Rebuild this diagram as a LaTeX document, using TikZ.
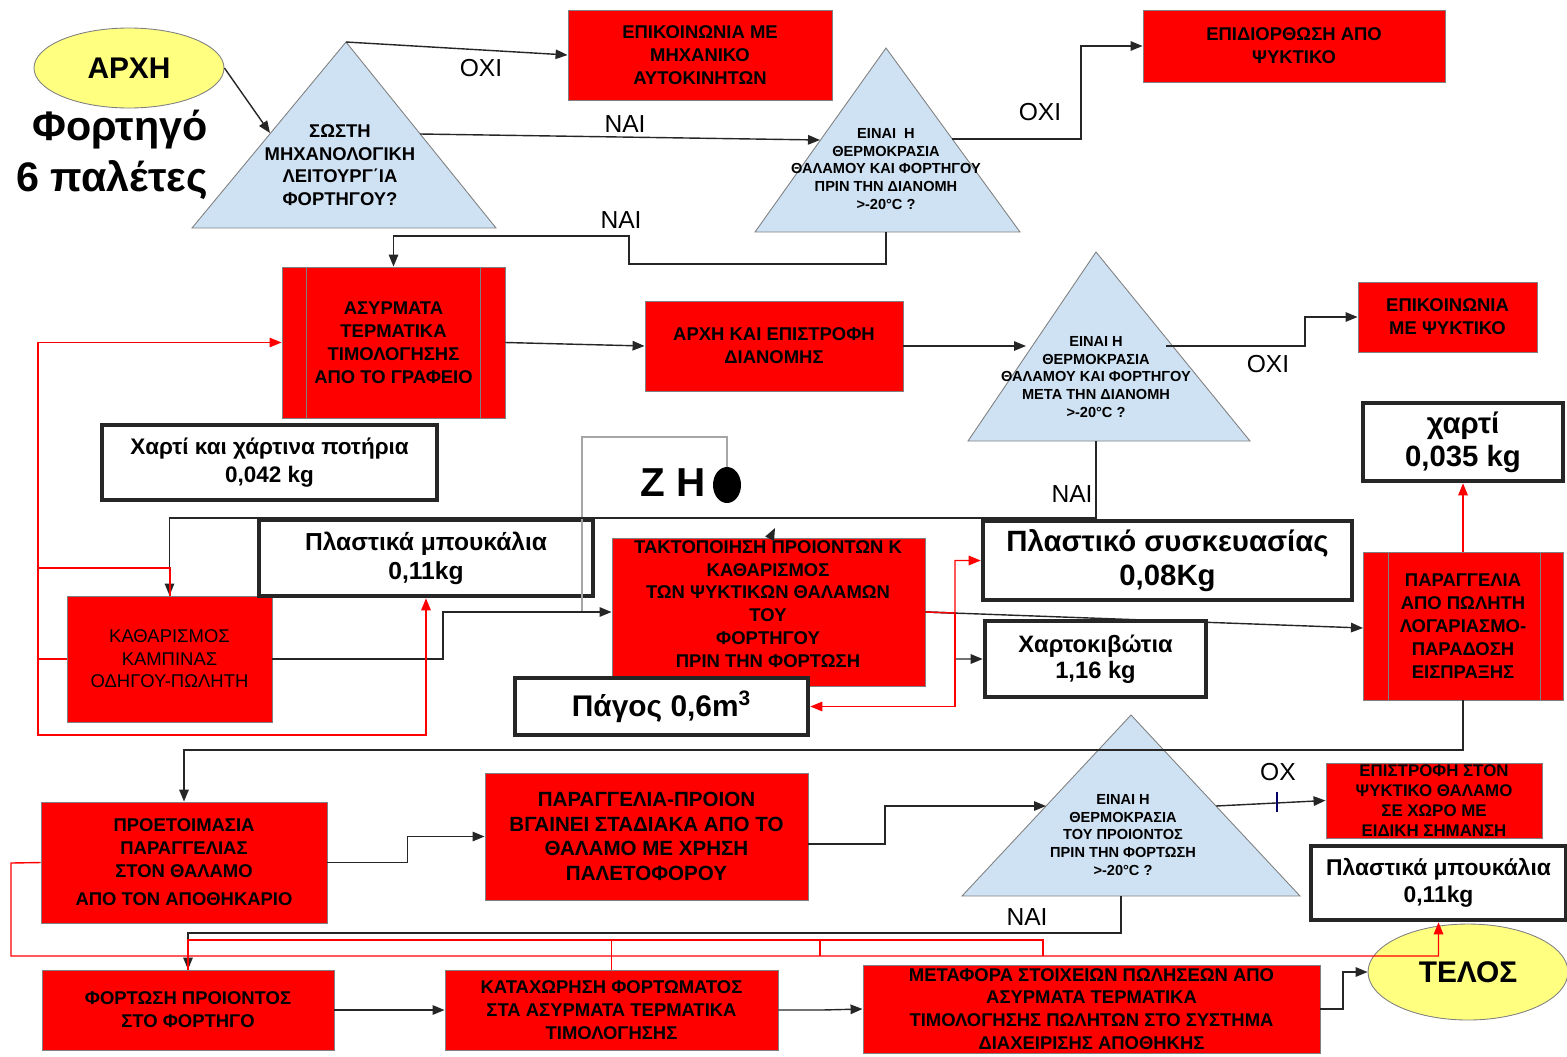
\documentclass[tikz,border=0pt]{standalone}
\usepackage{fontspec}
\setmainfont{Liberation Sans}
\usetikzlibrary{arrows.meta,shapes.geometric}
\definecolor{boxred}{HTML}{FF0000}
\definecolor{tri}{HTML}{CFE2F3}
\definecolor{termfill}{HTML}{FFFF80}
\definecolor{edge}{HTML}{808080}
\definecolor{ink}{HTML}{262626}
\definecolor{frame}{HTML}{A6A6A6}

\begin{document}
\begin{tikzpicture}[x=0.2mm,y=-0.2mm,
  redbox/.style={draw=edge, line width=0.5pt, fill=boxred, align=center, inner sep=0pt,
    font=\bfseries\fontsize{10.5}{13}\selectfont},
  boxtext/.style={align=center, inner sep=0pt, font=\bfseries\fontsize{10.5}{13}\selectfont},
  massbox/.style={draw=ink, line width=2.6pt, fill=white, align=center, inner sep=0pt},
  term/.style={ellipse, draw=edge, line width=0.5pt, fill=termfill, inner sep=0pt,
    font=\bfseries\fontsize{17}{20}\selectfont},
  decision/.style={draw=edge, line width=0.5pt, fill=tri},
  dtext/.style={align=center, inner sep=0pt, font=\bfseries\fontsize{8.3}{10.2}\selectfont},
  lbl/.style={inner sep=0pt, font=\fontsize{14}{16}\selectfont},
  link/.style={draw=ink, line width=0.8pt},
  flow/.style={link, -{Triangle[length=2.4mm,width=1.9mm]}},
  rlink/.style={draw=red, line width=0.8pt},
  rflow/.style={rlink, -{Triangle[length=2.4mm,width=1.9mm]}},
]
\useasboundingbox (0,0) rectangle (1567,1056);

% ---------- start and end terminals ----------
\node[term, minimum width=190*0.2mm, minimum height=80*0.2mm] (start) at (129,68) {ΑΡΧΗ};
\node[term, minimum width=200*0.2mm, minimum height=96*0.2mm] (end) at (1468,972) {ΤΕΛΟΣ};
\node[align=right, inner sep=0pt, font=\bfseries\fontsize{23.5}{29}\selectfont] (truck) at (112,155) {Φορτηγό\\6 παλέτες};

% ---------- decision triangles ----------
\coordinate (t1top) at (346,42);  \coordinate (t1l) at (192,228);  \coordinate (t1r) at (496,228);
\path[decision] (t1top) -- (t1r) -- (t1l) -- cycle;
\node[dtext, font=\bfseries\fontsize{10.5}{12.8}\selectfont] (q1) at (340,165)
  {ΣΩΣΤΗ\\ΜΗΧΑΝΟΛΟΓΙΚΗ\\ΛΕΙΤΟΥΡΓ΄ΙΑ\\ΦΟΡΤΗΓΟΥ?};
\coordinate (t1in) at (270,133);  \coordinate (t1yes) at (420,134);

\coordinate (t2top) at (886,48);  \coordinate (t2l) at (755,232);  \coordinate (t2r) at (1020,232);
\path[decision] (t2top) -- (t2r) -- (t2l) -- cycle;
\node[dtext] (q2) at (886,169) {ΕΙΝΑΙ\ \ Η\\ΘΕΡΜΟΚΡΑΣΙΑ\\ΘΑΛΑΜΟΥ ΚΑΙ ΦΟΡΤΗΓΟΥ\\ΠΡΙΝ ΤΗΝ ΔΙΑΝΟΜΗ\\>-20°C ?};
\coordinate (t2in) at (820,140);  \coordinate (t2no) at (952,139);  \coordinate (t2yes) at (886,232);

\coordinate (t3top) at (1096,252);  \coordinate (t3l) at (968,441);  \coordinate (t3r) at (1250,441);
\path[decision] (t3top) -- (t3r) -- (t3l) -- cycle;
\node[dtext] (q3) at (1096,377) {ΕΙΝΑΙ Η\\ΘΕΡΜΟΚΡΑΣΙΑ\\ΘΑΛΑΜΟΥ ΚΑΙ ΦΟΡΤΗΓΟΥ\\ΜΕΤΑ ΤΗΝ ΔΙΑΝΟΜΗ\\>-20°C ?};
\coordinate (t3in) at (1026,346);  \coordinate (t3no) at (1166,346);  \coordinate (t3yes) at (1096,441);

\coordinate (t4top) at (1131,715);  \coordinate (t4l) at (962,896);  \coordinate (t4r) at (1300,896);
\path[decision] (t4top) -- (t4r) -- (t4l) -- cycle;
\node[dtext] (q4) at (1123,835) {ΕΙΝΑΙ Η\\ΘΕΡΜΟΚΡΑΣΙΑ\\ΤΟΥ ΠΡΟΙΟΝΤΟΣ\\ΠΡΙΝ ΤΗΝ ΦΟΡΤΩΣΗ\\>-20°C ?};
\coordinate (t4in) at (1046,806);  \coordinate (t4no) at (1216,806);  \coordinate (t4yes) at (1121,896);

% ---------- process boxes ----------
\node[redbox, minimum width=264*0.2mm, minimum height=90*0.2mm] (mech) at (700,55)
  {ΕΠΙΚΟΙΝΩΝΙΑ ΜΕ\\ΜΗΧΑΝΙΚΟ\\ΑΥΤΟΚΙΝΗΤΩΝ};
\node[redbox, minimum width=302*0.2mm, minimum height=72*0.2mm] (repair) at (1294,46)
  {ΕΠΙΔΙΟΡΘΩΣΗ ΑΠΟ\\ΨΥΚΤΙΚΟ};
\node[redbox, minimum width=223*0.2mm, minimum height=151*0.2mm] (wl) at (393.5,342.5)
  {ΑΣΥΡΜΑΤΑ\\ΤΕΡΜΑΤΙΚΑ\\ΤΙΜΟΛΟΓΗΣΗΣ\\ΑΠΟ ΤΟ ΓΡΑΦΕΙΟ};
\draw[edge, line width=0.5pt] (306,267) -- (306,418) (480,267) -- (480,418);
\node[redbox, minimum width=258*0.2mm, minimum height=90*0.2mm] (route) at (774,346)
  {ΑΡΧΗ ΚΑΙ ΕΠΙΣΤΡΟΦΗ\\ΔΙΑΝΟΜΗΣ};
\node[redbox, minimum width=179*0.2mm, minimum height=70*0.2mm] (cool) at (1447.5,317)
  {ΕΠΙΚΟΙΝΩΝΙΑ\\ΜΕ ΨΥΚΤΙΚΟ};
\node[redbox, minimum width=205*0.2mm, minimum height=126*0.2mm,
  font=\fontsize{10.5}{12.8}\selectfont] (clean) at (169.5,659)
  {ΚΑΘΑΡΙΣΜΟΣ\\ΚΑΜΠΙΝΑΣ\\ΟΔΗΓΟΥ-ΠΩΛΗΤΗ};
\node[redbox, minimum width=313*0.2mm, minimum height=148*0.2mm] (arrange) at (768.5,612) {};
\node[boxtext] (arrangetxt) at (768,604)
  {ΤΑΚΤΟΠΟΙΗΣΗ ΠΡΟΙΟΝΤΩΝ Κ\\ΚΑΘΑΡΙΣΜΟΣ\\ΤΩΝ ΨΥΚΤΙΚΩΝ ΘΑΛΑΜΩΝ\\ΤΟΥ\\ΦΟΡΤΗΓΟΥ\\ΠΡΙΝ ΤΗΝ ΦΟΡΤΩΣΗ};
\node[redbox, minimum width=200*0.2mm, minimum height=148*0.2mm] (order) at (1463,626)
  {ΠΑΡΑΓΓΕΛΙΑ\\ΑΠΟ ΠΩΛΗΤΗ\\ΛΟΓΑΡΙΑΣΜΟ-\\ΠΑΡΑΔΟΣΗ\\ΕΙΣΠΡΑΞΗΣ};
\draw[edge, line width=0.5pt] (1388,552) -- (1388,700) (1540,552) -- (1540,700);
\node[redbox, minimum width=286*0.2mm, minimum height=121*0.2mm] (prep) at (184,862.5)
  {ΠΡΟΕΤΟΙΜΑΣΙΑ\\ΠΑΡΑΓΓΕΛΙΑΣ\\ΣΤΟΝ ΘΑΛΑΜΟ\\[3pt]ΑΠΟ ΤΟΝ ΑΠΟΘΗΚΑΡΙΟ};
\node[redbox, minimum width=323*0.2mm, minimum height=127*0.2mm,
  font=\bfseries\fontsize{11.7}{14}\selectfont] (pallet) at (646.5,836.5)
  {ΠΑΡΑΓΓΕΛΙΑ-ΠΡΟΙΟΝ\\ΒΓΑΙΝΕΙ ΣΤΑΔΙΑΚΑ ΑΠΟ ΤΟ\\ΘΑΛΑΜΟ ΜΕ ΧΡΗΣΗ\\ΠΑΛΕΤΟΦΟΡΟΥ};
\node[redbox, minimum width=216*0.2mm, minimum height=75*0.2mm,
  font=\bfseries\fontsize{9.6}{11.5}\selectfont] (back) at (1434,800.5)
  {ΕΠΙΣΤΡΟΦΗ ΣΤΟΝ\\ΨΥΚΤΙΚΟ ΘΑΛΑΜΟ\\ΣΕ ΧΩΡΟ ΜΕ\\ΕΙΔΙΚΗ ΣΗΜΑΝΣΗ};
\node[redbox, minimum width=292*0.2mm, minimum height=80*0.2mm] (load) at (188,1010)
  {ΦΟΡΤΩΣΗ ΠΡΟΙΟΝΤΟΣ\\ΣΤΟ ΦΟΡΤΗΓΟ};
\node[redbox, minimum width=333*0.2mm, minimum height=80*0.2mm] (reg) at (611.5,1010)
  {ΚΑΤΑΧΩΡΗΣΗ ΦΟΡΤΩΜΑΤΟΣ\\ΣΤΑ ΑΣΥΡΜΑΤΑ ΤΕΡΜΑΤΙΚΑ\\ΤΙΜΟΛΟΓΗΣΗΣ};
\node[redbox, minimum width=457*0.2mm, minimum height=88*0.2mm] (transfer) at (1091.5,1009)
  {ΜΕΤΑΦΟΡΑ ΣΤΟΙΧΕΙΩΝ ΠΩΛΗΣΕΩΝ ΑΠΟ\\ΑΣΥΡΜΑΤΑ ΤΕΡΜΑΤΙΚΑ\\ΤΙΜΟΛΟΓΗΣΗΣ ΠΩΛΗΤΩΝ ΣΤΟ ΣΥΣΤΗΜΑ\\ΔΙΑΧΕΙΡΙΣΗΣ ΑΠΟΘΗΚΗΣ};

% ---------- waste quantities ----------
\node[massbox, minimum width=335*0.2mm, minimum height=75*0.2mm,
  font=\bfseries\fontsize{12.8}{15.5}\selectfont] (cups) at (269.5,462.5)
  {Χαρτί και χάρτινα ποτήρια\\0,042 kg};
\node[massbox, minimum width=334*0.2mm, minimum height=76*0.2mm,
  font=\bfseries\fontsize{14}{16.5}\selectfont] (bottlesA) at (426,558)
  {Πλαστικά μπουκάλια\\0,11kg};
\node[massbox, minimum width=200*0.2mm, minimum height=78*0.2mm,
  font=\bfseries\fontsize{16.7}{19}\selectfont] (paper) at (1463,442)
  {χαρτί\\0,035 kg};
\node[massbox, minimum width=369*0.2mm, minimum height=79*0.2mm,
  font=\bfseries\fontsize{16.7}{19}\selectfont] (wrap) at (1167.5,560.5)
  {Πλαστικό συσκευασίας\\0,08Kg};
\node[massbox, minimum width=221*0.2mm, minimum height=76*0.2mm,
  font=\bfseries\fontsize{13.5}{15}\selectfont] (carton) at (1095.5,659)
  {Χαρτοκιβώτια\\1,16 kg};
\node[massbox, minimum width=293*0.2mm, minimum height=57*0.2mm,
  font=\bfseries\fontsize{17}{19}\selectfont] (ice) at (661.5,706.5)
  {Πάγος 0,6m\textsuperscript{3}};
\node[massbox, minimum width=255*0.2mm, minimum height=74*0.2mm,
  font=\bfseries\fontsize{13}{15}\selectfont] (bottlesB) at (1438.5,883)
  {Πλαστικά μπουκάλια\\0,11kg};

% ---------- "Z H" mark with its grey frame ----------
\draw[frame, line width=0.8pt] (582,613) -- (582,437) -- (727,437) -- (727,472);
\node[inner sep=0pt, font=\bfseries\fontsize{23}{26}\selectfont] (zh) at (673,483) {Ζ Η};
\fill[black] (727,485) ellipse [x radius=14, y radius=18];

% ---------- black flow connectors ----------
\draw[flow] (start.east) -- (t1in);
\draw[flow] (t1top) -- (mech.west);
\draw[flow] (t1yes) -- (t2in);
\draw[flow] (t2no) -- (1081,139) |- (repair.west);
\draw[flow] (t2yes) -- (886,264) -- (629,264) -- (629,236) -| (wl.north);
\draw[flow] (wl.east) -- (route.west);
\draw[flow] (route.east) -- (t3in);
\draw[flow] (t3no) -- (1305,346) |- (cool.west);
\draw[flow] (t3yes) -- (1096,518) -| (clean.north);
\draw[flow] (771,536) -- (775,528);
\draw[flow] (clean.east) -- (443,659) |- (arrange.west);
\draw[flow] (arrange.east) -- (955,613) |- (carton.west);
\draw[flow] (arrange.east) -- (1363,628);
\draw[flow] (order.south) -- (1463,750) -| (prep.north);
\draw[flow] (prep.east) -- ++(80,0) |- (pallet.west);
\draw[flow] (pallet.east |- 0,844) -- (885,844) |- (t4in);
\draw[flow] (t4no) -- (back.west);
\draw[draw=blue!40!black, line width=0.8pt] (1277,792) -- (1277,812);
\draw[flow] (t4yes) -- (1121,933) -| (load.north);
\draw[flow] (load.east) -- (reg.west);
\draw[flow] (reg.east) -- (822,1010) -- (transfer.west);
\draw[flow] (transfer.east) -- (1343,1009) |- (end.west);

% ---------- red material flows ----------
\draw[rflow] (clean.west) -- (38,659) |- (wl.west);
\draw[rflow] (38,659) |- (426,735) -- (bottlesA.south);
\draw[rlink] (38,568) -| (170,596);
\draw[rflow] (arrange.east) -- (955,613) |- (wrap.west);
\draw[rflow] (955,613) |- (ice.east);
\draw[rflow] (order.north) -- (paper.south);
\draw[rflow] (prep.west) -- (11,863) |- (1438.5,956) -- (bottlesB.south);
\draw[rlink] (188,970) -- (188,940) -- (1043,940) -- (1043,956);
\draw[rlink] (820,940) -- (820,956);
\draw[rlink] (611.5,940) -- (reg.north);

% ---------- branch labels ----------
\node[lbl] (l1) at (481,68) {ΟΧΙ};
\node[lbl] (l2) at (625,124) {ΝΑΙ};
\node[lbl] (l3) at (1040,112) {ΟΧΙ};
\node[lbl] (l4) at (621,220) {ΝΑΙ};
\node[lbl] (l5) at (1268,364) {ΟΧΙ};
\node[lbl] (l6) at (1072,494) {ΝΑΙ};
\node[lbl] (l7) at (1278,772) {ΟΧ};
\node[lbl] (l8) at (1027,917) {ΝΑΙ};
\end{tikzpicture}
\end{document}
